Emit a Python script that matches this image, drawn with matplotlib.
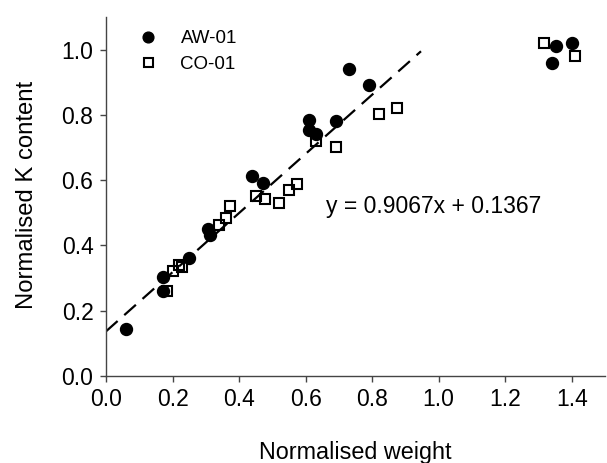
import matplotlib
matplotlib.use("Agg")
import matplotlib.pyplot as plt
import numpy as np

plt.rcParams['font.family'] = ['Liberation Sans', 'DejaVu Sans']

# AW-01 (filled circles)
aw_x = [0.06, 0.17, 0.17, 0.25, 0.307, 0.312, 0.44, 0.472, 0.61, 0.61, 0.63, 0.69, 0.73, 0.792, 1.34, 1.352, 1.40]
aw_y = [0.143, 0.304, 0.261, 0.361, 0.452, 0.432, 0.612, 0.592, 0.784, 0.753, 0.743, 0.781, 0.942, 0.893, 0.959, 1.013, 1.02]

# CO-01 (open squares)
co_x = [0.182, 0.20, 0.22, 0.23, 0.34, 0.36, 0.372, 0.45, 0.479, 0.52, 0.55, 0.574, 0.632, 0.69, 0.822, 0.875, 1.317, 1.41]
co_y = [0.261, 0.322, 0.34, 0.333, 0.462, 0.483, 0.521, 0.551, 0.542, 0.53, 0.569, 0.588, 0.719, 0.702, 0.802, 0.821, 1.02, 0.98]

slope = 0.9067
intercept = 0.1367
fit_x = [0.0, 0.947]

xticks = [0.0, 0.2, 0.4, 0.6, 0.8, 1.0, 1.2, 1.4]
yticks = [0.0, 0.2, 0.4, 0.6, 0.8, 1.0]

fig = plt.figure(figsize=(6.07, 4.63), dpi=100)
ax = fig.add_axes([0.1746, 0.188, 0.822, 0.775])

fx = np.array(fit_x)
ax.plot(fx, slope * fx + intercept, color='black', lw=1.6, dashes=(7, 4), zorder=1)

ax.plot(aw_x, aw_y, 'o', color='black', markersize=8.6, label='AW-01', zorder=3)
ax.plot(co_x, co_y, 's', markerfacecolor='none', markeredgecolor='black',
        markeredgewidth=1.5, markersize=7.2, label='CO-01', zorder=3)

ax.set_xlim(0, 1.5)
ax.set_ylim(0, 1.1)
ax.set_xticks(xticks)
ax.set_yticks(yticks)
ax.set_xticklabels([f"{t:.1f}" for t in xticks])
ax.set_yticklabels([f"{t:.1f}" for t in yticks])

for s in ['top', 'right']:
    ax.spines[s].set_visible(False)
for s in ['left', 'bottom']:
    ax.spines[s].set_color('#444444')
    ax.spines[s].set_linewidth(1.0)
ax.tick_params(direction='out', length=4, width=1, color='#444444',
               labelsize=16.5, pad=5)

ax.set_xlabel('Normalised weight', fontsize=16.8)
ax.set_ylabel('Normalised K content', fontsize=17.2)
ax.xaxis.set_label_coords(0.5, -0.18)
ax.yaxis.set_label_coords(-0.137, 0.505)

ax.text(0.662, 0.518, f"y = {slope}x + {intercept}", fontsize=16.5,
        ha='left', va='center')

ax.legend(loc='upper left', bbox_to_anchor=(0.046, 0.985), frameon=False,
          fontsize=13.5, handletextpad=1.15, labelspacing=0.45,
          borderaxespad=0, handlelength=1.2, markerscale=0.9)

fig.savefig('out.png', dpi=100)
